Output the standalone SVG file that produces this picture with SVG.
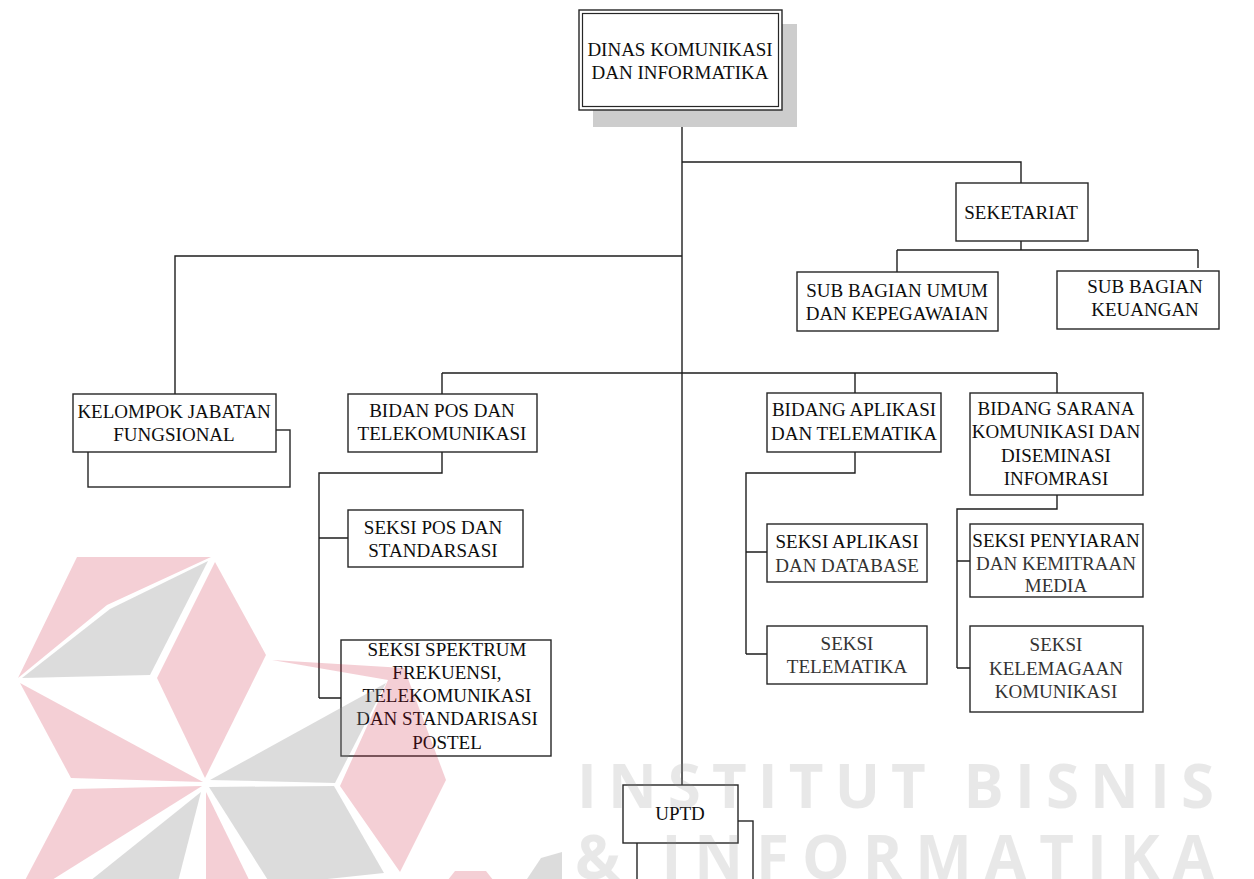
<svg xmlns="http://www.w3.org/2000/svg" width="1254" height="879" viewBox="0 0 1254 879">
<style>
.box{fill:#fff;stroke:#262626;stroke-width:1.4}
.back{fill:#fff;stroke:#262626;stroke-width:1.4}
.t{font-family:"Liberation Serif","Times New Roman","DejaVu Serif",serif;font-size:19px;fill:#0d0d0d;text-anchor:middle}
.tl{fill:#333}
.ln{fill:none;stroke:#1e1e1e;stroke-width:1.4}
.wm{font-family:"Open Sans","Noto Sans",sans-serif;font-weight:bold;font-size:60px;fill:#8c8c8c;opacity:0.19}
.pk{fill:#c8102e;opacity:0.2}
.gr{fill:#8a8a8a;opacity:0.3}
</style>
<rect width="1254" height="879" fill="#fff"/>

<g id="connectors">
<path class="ln" d="M682,110 V373" stroke-width="2.2"/>
<path class="ln" d="M682,373 V785" stroke="#555"/>
<path class="ln" d="M682,162 H1021 V183"/>
<path class="ln" d="M1021,241 V250 M897,250 H1198 M897,250 V272 M1198,250 V268"/>
<path class="ln" d="M682,256 H175 V394"/>
<path class="ln" d="M442,373 H1057 M442,373 V394 M855,373 V393 M1057,373 V393"/>
<path class="ln" d="M442,452 V473 H319 V698 M319,538 H348 M319,698 H341"/>
<path class="ln" d="M855,452 V473 H746 V654 M746,552 H767 M746,654 H767"/>
<path class="ln" d="M1057,495 V509 H957 V668 M957,561 H970 M957,668 H970"/>
</g>

<g id="dinas">
<rect x="593" y="24" width="204" height="103" fill="#cdcdcd"/>
<rect class="box" x="579" y="10" width="203" height="100"/>
<rect x="582.5" y="13.5" width="196" height="93" fill="none" stroke="#262626" stroke-width="1.2"/>
<text class="t" x="680" y="56">DINAS KOMUNIKASI</text>
<text class="t" x="680" y="79">DAN INFORMATIKA</text>
</g>

<g id="seketariat">
<rect class="box" x="956" y="183" width="132" height="58"/>
<text class="t" x="1021" y="219">SEKETARIAT</text>
</g>

<g id="sub-umum">
<rect class="box" x="797" y="272" width="201" height="59"/>
<text class="t" x="897" y="297">SUB BAGIAN UMUM</text>
<text class="t" x="897" y="320">DAN KEPEGAWAIAN</text>
</g>

<g id="sub-keuangan">
<rect class="box" x="1057" y="271" width="162" height="58"/>
<text class="t" x="1145" y="293">SUB BAGIAN</text>
<text class="t" x="1145" y="316">KEUANGAN</text>
</g>

<g id="kelompok">
<rect class="back" x="88" y="430" width="202" height="57"/>
<rect class="box" x="73" y="394" width="203" height="58"/>
<text class="t" x="174" y="418">KELOMPOK JABATAN</text>
<text class="t" x="174" y="441">FUNGSIONAL</text>
</g>

<g id="bidan-pos">
<rect class="box" x="348" y="394" width="189" height="58"/>
<text class="t" x="442" y="417">BIDAN POS DAN</text>
<text class="t" x="442" y="440">TELEKOMUNIKASI</text>
</g>

<g id="bidang-aplikasi">
<rect class="box" x="767" y="393" width="174" height="59"/>
<text class="t" x="854" y="416">BIDANG APLIKASI</text>
<text class="t" x="854" y="440">DAN TELEMATIKA</text>
</g>

<g id="bidang-sarana">
<rect class="box" x="970" y="393" width="173" height="102"/>
<text class="t" x="1056" y="415">BIDANG SARANA</text>
<text class="t" x="1056" y="438">KOMUNIKASI DAN</text>
<text class="t" x="1056" y="462">DISEMINASI</text>
<text class="t" x="1056" y="485">INFOMRASI</text>
</g>

<g id="seksi-pos">
<rect class="box" x="348" y="510" width="175" height="57"/>
<text class="t" x="433" y="534">SEKSI POS DAN</text>
<text class="t" x="433" y="557">STANDARSASI</text>
</g>

<g id="seksi-spektrum">
<rect class="box" x="341" y="640" width="210" height="116"/>
<text class="t" x="447" y="656">SEKSI SPEKTRUM</text>
<text class="t" x="447" y="679">FREKUENSI,</text>
<text class="t" x="447" y="702">TELEKOMUNIKASI</text>
<text class="t" x="447" y="725">DAN STANDARISASI</text>
<text class="t" x="447" y="749">POSTEL</text>
</g>

<g id="seksi-aplikasi">
<rect class="box" x="767" y="524" width="160" height="58"/>
<text class="t" x="847" y="548">SEKSI APLIKASI</text>
<text class="t tl" x="847" y="572">DAN DATABASE</text>
</g>

<g id="seksi-telematika">
<rect class="box" x="767" y="626" width="160" height="58"/>
<text class="t tl" x="847" y="650">SEKSI</text>
<text class="t tl" x="847" y="673">TELEMATIKA</text>
</g>

<g id="seksi-penyiaran">
<rect class="box" x="970" y="524" width="173" height="73"/>
<text class="t" x="1056" y="547">SEKSI PENYIARAN</text>
<text class="t tl" x="1056" y="570">DAN KEMITRAAN</text>
<text class="t tl" x="1056" y="592">MEDIA</text>
</g>

<g id="seksi-kelembagaan">
<rect class="box" x="970" y="626" width="173" height="86"/>
<text class="t tl" x="1056" y="651">SEKSI</text>
<text class="t tl" x="1056" y="675">KELEMAGAAN</text>
<text class="t tl" x="1056" y="698">KOMUNIKASI</text>
</g>

<g id="uptd">
<rect class="back" x="637" y="821" width="116" height="62"/>
<rect class="box" x="623" y="785" width="115" height="58"/>
<text class="t" x="680" y="820">UPTD</text>
</g>

<g id="watermark">
<polygon class="pk" points="77,557 211,557 107,605 18,678"/>
<polygon class="gr" points="22,678 110,609 208,561 150,675"/>
<polygon class="pk" points="215,562 266,655 205,778 157,678"/>
<polygon class="pk" points="20,683 203,782 71,778"/>
<polygon class="pk" points="73,789 202,786 12,905"/>
<polygon class="gr" points="60,905 201,792 172,905"/>
<polygon class="pk" points="206,792 257,896 206,905"/>
<polygon class="gr" points="209,787 334,786 384,873 271,885"/>
<polygon class="pk" points="272,660 404,668 446,780 400,872 340,786 388,680"/>
<polygon class="gr" points="210,780 386,683 335,783"/>
<polygon class="pk" points="455,871 486,871 497,885 444,885"/>
<polygon class="gr" points="541,858 562,852 562,885 523,885"/>
<text class="wm" x="577" y="808" textLength="637" lengthAdjust="spacing">INSTITUT BISNIS</text>
<text class="wm" x="575" y="879" textLength="639" lengthAdjust="spacing">&amp; INFORMATIKA</text>
</g>
</svg>
